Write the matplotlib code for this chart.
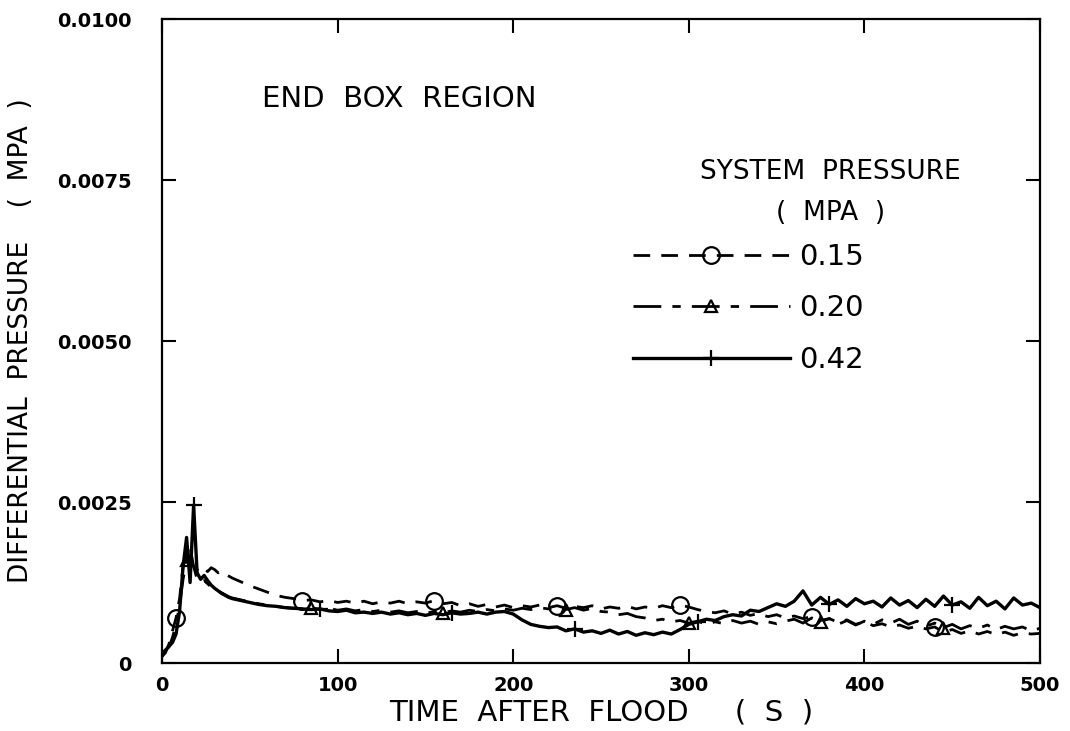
import numpy as np
import matplotlib
matplotlib.use("Agg")
import matplotlib.pyplot as plt

# time grid (s): every 2 s up to 40 s, then every 5 s
t_sec = np.concatenate([np.arange(0, 41, 2), np.arange(45, 501, 5)])

# differential pressure, in units of 1e-4 MPa
dp_015 = [1.0, 1.6, 3.0, 5.0, 7.0, 10.0, 15.0, 17.0, 16.0, 15.0, 14.5,
          14.0, 14.6, 14.2, 14.8, 14.5, 14.0, 14.3, 13.8, 13.5, 13.2,
          12.6, 12.0, 11.5, 11.0, 10.5, 10.2, 10.0, 9.7, 9.8, 9.5,
          9.7, 9.4, 9.6, 9.3, 9.6, 9.2, 9.5, 9.3, 9.6, 9.2,
          9.5, 9.3, 9.7, 9.2, 9.4, 8.9, 9.2, 8.8, 9.1, 8.7,
          9.0, 8.6, 8.9, 8.7, 9.0, 8.6, 8.9, 8.5, 8.8, 8.6,
          8.9, 8.4, 8.7, 8.5, 8.8, 8.4, 8.7, 8.5, 8.9, 8.6,
          9.0, 8.7, 8.3, 8.0, 7.8, 8.1, 7.6, 7.9, 7.4, 7.7,
          7.2, 7.5, 7.0, 7.3, 6.9, 7.2, 6.6, 6.9, 6.3, 6.7,
          6.0, 6.4, 5.8, 6.1, 5.6, 5.9, 5.4, 5.7, 5.3, 5.6,
          4.8, 5.2, 4.6, 5.0, 4.5, 4.9, 4.4, 4.8, 4.3, 4.7,
          4.5, 4.6]

dp_020 = [1.0, 2.0, 2.5, 4.0, 6.0, 9.0, 13.0, 16.0, 18.0, 15.0, 13.0,
          12.5, 12.8, 12.3, 11.8, 11.5, 11.2, 10.9, 10.6, 10.3, 10.1,
          9.8, 9.5, 9.2, 9.0, 8.8, 8.6, 8.5, 8.4, 8.6, 8.3,
          8.5, 8.2, 8.4, 8.1, 8.3, 8.0, 8.2, 7.9, 8.1, 7.8,
          8.0, 7.7, 8.0, 7.8, 8.1, 7.9, 8.2, 8.0, 8.3, 8.1,
          8.4, 8.2, 8.5, 8.3, 8.6, 8.4, 8.7, 8.3, 8.6, 8.2,
          8.5, 8.0, 7.9, 7.5, 7.7, 7.2, 7.0, 6.6, 6.8, 6.4,
          6.6, 6.2, 6.5, 6.0, 6.4, 6.1, 6.6, 6.2, 6.5, 6.0,
          6.4, 6.1, 6.5, 6.8, 6.2, 7.0, 6.4, 6.9, 6.0, 6.6,
          5.9, 6.5, 6.0, 6.7, 6.2, 6.8, 6.0, 6.5, 5.7, 6.2,
          5.5, 6.0, 5.3, 5.8, 5.4, 5.9, 5.2, 5.7, 5.3, 5.6,
          5.0, 5.4]

dp_042 = [1.5, 2.0, 2.6, 3.2, 4.5, 8.0, 15.0, 19.5, 12.5, 24.5, 14.0,
          13.0, 13.6, 12.8, 12.1, 11.6, 11.2, 10.8, 10.5, 10.2, 10.0,
          9.7, 9.4, 9.1, 8.9, 8.8, 8.6, 8.5, 8.4, 8.3, 8.4,
          8.1, 8.0, 8.2, 7.8, 7.9, 7.7, 7.9, 7.6, 7.8, 7.5,
          7.7, 7.4, 7.7, 7.5, 7.8, 7.6, 7.7, 7.9, 7.6, 7.9,
          8.0, 7.6, 6.7, 6.0, 5.7, 5.5, 5.6, 5.0, 5.3, 4.8,
          5.0, 4.6, 5.1, 4.5, 4.9, 4.3, 4.7, 4.4, 4.8, 4.5,
          5.2, 6.0, 6.4, 6.8, 6.6, 7.2, 7.5, 7.3, 8.2, 8.0,
          8.6, 9.2, 8.8, 9.6, 11.2, 9.0, 10.2, 9.1, 9.8, 8.8,
          10.0, 9.2, 9.6, 8.7, 10.1, 9.0, 9.7, 8.6, 9.9, 8.8,
          10.4, 9.0, 9.5, 8.5, 10.2, 8.9, 9.6, 8.4, 10.1, 9.0,
          9.3, 8.6]

mark_015 = [4, 28, 43, 57, 71, 86, 100]
mark_020 = [7, 29, 44, 58, 72, 87, 101]
mark_042 = [9, 30, 45, 59, 73, 88, 102]

xticks = [0, 100, 200, 300, 400, 500]
yticks = [0, 0.0025, 0.005, 0.0075, 0.01]
ytick_labels = ["0", "0.0025", "0.0050", "0.0075", "0.0100"]

plt.rcParams['font.family'] = ['DejaVu Sans']

fig = plt.figure(figsize=(10.7, 7.31), dpi=100)
ax = fig.add_axes([0.1514, 0.093, 0.8206, 0.881])

scale = 1e-4
ax.plot(t_sec, np.array(dp_015) * scale, color='k', lw=2.0, ls=(0, (6, 4)),
        marker='o', ms=12, mfc='none', mec='k', mew=1.6,
        markevery=mark_015, label='0.15')
ax.plot(t_sec, np.array(dp_020) * scale, color='k', lw=2.0, ls=(0, (10, 4, 3, 4)),
        marker='^', ms=9, mfc='none', mec='k', mew=1.6,
        markevery=mark_020, label='0.20')
ax.plot(t_sec, np.array(dp_042) * scale, color='k', lw=2.4, ls='-',
        marker='+', ms=12, mec='k', mew=1.6,
        markevery=mark_042, label='0.42')

ax.set_xlim(0, 500)
ax.set_ylim(0, 0.01)
ax.set_xticks(xticks)
ax.set_xticklabels([str(v) for v in xticks])
ax.set_yticks(yticks)
ax.set_yticklabels(ytick_labels)

for s in ax.spines.values():
    s.set_linewidth(1.6)
ax.tick_params(direction='in', length=10, width=1.5, top=True, right=True)
ax.tick_params(axis='y', pad=22)
ax.tick_params(axis='x', pad=9)
for lab in ax.get_xticklabels() + ax.get_yticklabels():
    lab.set_fontsize(14)
    lab.set_fontweight('bold')

ax.set_xlabel("TIME  AFTER  FLOOD     (  S  )", fontsize=21, labelpad=3)
ax.set_ylabel("DIFFERENTIAL  PRESSURE    (  MPA  )", fontsize=19, labelpad=16)

ax.text(57, 0.00876, "END  BOX  REGION", fontsize=21, va='center', ha='left')

ax.text(0.761, 0.763, "SYSTEM  PRESSURE", transform=ax.transAxes,
        fontsize=19, ha='center', va='center')
ax.text(0.761, 0.698, "(  MPA  )", transform=ax.transAxes,
        fontsize=19, ha='center', va='center')

leg = ax.legend(loc='upper left', bbox_to_anchor=(0.536, 0.652), frameon=False,
                fontsize=21, handlelength=5.4, handletextpad=0.3,
                labelspacing=0.8, borderpad=0, borderaxespad=0, numpoints=1)

fig.savefig("out.png", dpi=100)
